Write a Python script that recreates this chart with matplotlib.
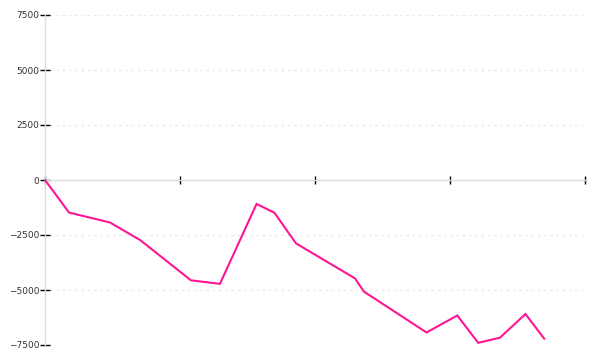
import matplotlib
matplotlib.use("Agg")
import matplotlib.pyplot as plt

# data
x_pos = [0, 0.178, 0.481, 0.707, 1.081, 1.296, 1.567, 1.699, 1.859,
         2.296, 2.363, 2.826, 3.054, 3.209, 3.370, 3.559, 3.698]
values = [0, -1480, -1930, -2740, -4560, -4720, -1090, -1485, -2880,
          -4470, -5076, -6930, -6160, -7400, -7167, -6091, -7212]
y_ticks = [-7500, -5000, -2500, 0, 2500, 5000, 7500]
x_ticks = [0, 1, 2, 3, 4]

fig = plt.figure(figsize=(6, 3.6), dpi=100)
ax = fig.add_axes([45/600, 15/360, 540/600, 330/360])

ax.plot(x_pos, values, color="#ff1493", linewidth=1.5, solid_joinstyle="miter", zorder=3)

ax.set_xlim(0, 4)
ax.set_ylim(-7500, 7500)
ax.set_yticks(y_ticks)
ax.set_yticklabels([f"{v}".replace("-", "\u2212") for v in y_ticks])
ax.set_xticks(x_ticks)
ax.set_xticklabels([])

for v in y_ticks:
    if v != 0:
        ax.axhline(v, color="#e6e6e6", linewidth=1, linestyle=(0, (1.5, 3)), xmin=0.01, xmax=0.995, zorder=1)

for s in ["top", "right"]:
    ax.spines[s].set_visible(False)
ax.spines["left"].set_color("#dddddd")
ax.spines["bottom"].set_color("#dddddd")
ax.spines["bottom"].set_position(("data", 0))
ax.spines["left"].set_linewidth(1)
ax.spines["bottom"].set_linewidth(1)

ax.tick_params(axis="y", direction="inout", length=6.5, width=1, color="black",
               labelsize=6.5, labelcolor="#333333", pad=1)
ax.tick_params(axis="x", direction="inout", length=6, width=1, color="black", pad=1)

fig.savefig("out.png", dpi=100)
